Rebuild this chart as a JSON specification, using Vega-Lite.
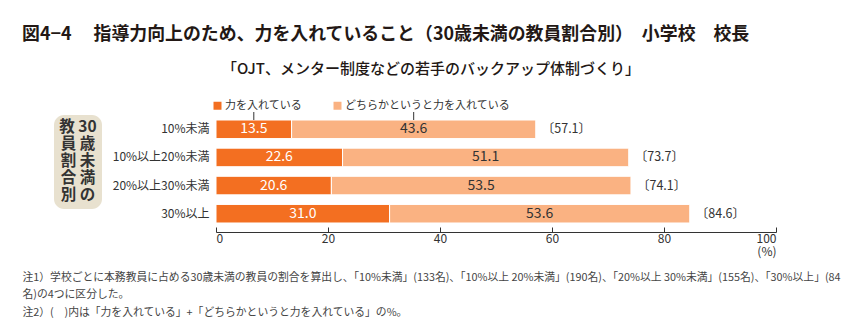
{
  "$schema": "https://vega.github.io/schema/vega-lite/v6.json",
  "padding": {"left": 22, "top": 26, "right": 5, "bottom": 5},
  "background": "white",
  "config": {"font": "Noto Sans CJK JP", "view": {"stroke": null}},
  "title": {"text": "図4−4　 指導力向上のため、力を入れていること（30歳未満の教員割合別）　小学校　校長", "anchor": "start", "frame": "bounds", "fontSize": 17.9, "fontWeight": "bold", "color": "#231815", "offset": 18},
  "datasets": {
    "bars": [
      {"cat": "10%未満", "type": "力を入れている", "ord": 1, "value": 13.5},
      {"cat": "10%未満", "type": "どちらかというと力を入れている", "ord": 2, "value": 43.6},
      {"cat": "10%以上20%未満", "type": "力を入れている", "ord": 1, "value": 22.6},
      {"cat": "10%以上20%未満", "type": "どちらかというと力を入れている", "ord": 2, "value": 51.1},
      {"cat": "20%以上30%未満", "type": "力を入れている", "ord": 1, "value": 20.6},
      {"cat": "20%以上30%未満", "type": "どちらかというと力を入れている", "ord": 2, "value": 53.5},
      {"cat": "30%以上", "type": "力を入れている", "ord": 1, "value": 31.0},
      {"cat": "30%以上", "type": "どちらかというと力を入れている", "ord": 2, "value": 53.6}
    ],
    "totals": [
      {"cat": "10%未満", "total": 57.1},
      {"cat": "10%以上20%未満", "total": 73.7},
      {"cat": "20%以上30%未満", "total": 74.1},
      {"cat": "30%以上", "total": 84.6}
    ]
  },
  "vconcat": [
    {
      "title": {"text": "「OJT、メンター制度などの若手のバックアップ体制づくり」", "anchor": "middle", "frame": "bounds", "fontSize": 15, "fontWeight": 500, "color": "#231815", "offset": 34},
      "width": 560,
      "height": 121,
      "layer": [
        {
          "data": {"name": "bars"},
          "mark": {"type": "bar", "stroke": "white", "strokeWidth": 1},
          "encoding": {
            "y": {"field": "cat", "type": "nominal", "sort": ["10%未満", "10%以上20%未満", "20%以上30%未満", "30%以上"],
              "scale": {"paddingInner": 0.34, "paddingOuter": 0.32},
              "axis": {"title": null, "ticks": false, "domain": false, "labelFontSize": 12, "labelColor": "#333", "labelPadding": 7}},
            "x": {"field": "value", "type": "quantitative", "stack": "zero", "scale": {"domain": [0, 100]},
              "axis": {"values": [0, 20, 40, 60, 80, 100], "grid": false, "tickSize": -5, "domainColor": "#333", "tickColor": "#333", "labelFontSize": 12, "labelColor": "#333", "labelExpr": "datum.value == 100 ? ['100', '(%)'] : datum.label", "labelLineHeight": 13, "labelPadding": 6,
                "title": ["注1）学校ごとに本務教員に占める30歳未満の教員の割合を算出し、「10%未満」(133名)、「10%以上 20%未満」(190名)、「20%以上 30%未満」(155名)、「30%以上」(84", "　　　名)の4つに区分した。", "注2）(　)内は「力を入れている」+「どちらかというと力を入れている」の%。"],
                "titleX": -194, "titleY": 39, "titleAlign": "left", "titleAnchor": "start", "titleBaseline": "top", "titleFontSize": 10.8, "titleFontWeight": "normal", "titleColor": "#444", "titleLineHeight": 17.5}},
            "color": {"field": "type", "type": "nominal", "scale": {"domain": ["力を入れている", "どちらかというと力を入れている"], "range": ["#f36f21", "#fab282"]},
              "legend": {"orient": "none", "legendX": -4, "legendY": -11, "padding": 0, "direction": "horizontal", "title": null, "symbolType": "square", "symbolSize": 64, "symbolStrokeWidth": 0, "labelFontSize": 11, "labelColor": "#333", "labelLimit": 0, "columnPadding": 30, "labelOffset": 2}},
            "order": {"field": "ord"}
          }
        },
        {
          "data": {"name": "bars"},
          "transform": [{"stack": "value", "groupby": ["cat"], "sort": [{"field": "ord"}], "as": ["v0", "v1"]}, {"calculate": "(datum.v0 + datum.v1) / 2", "as": "mid"}],
          "mark": {"type": "text", "fontSize": 14},
          "encoding": {
            "y": {"field": "cat", "type": "nominal", "sort": ["10%未満", "10%以上20%未満", "20%以上30%未満", "30%以上"]},
            "x": {"field": "mid", "type": "quantitative"},
            "text": {"field": "value", "format": ".1f"},
            "color": {"condition": {"test": "datum.ord == 1", "value": "white"}, "value": "#333"}
          }
        },
        {
          "data": {"name": "totals"},
          "transform": [{"calculate": "'〔' + format(datum.total, '.1f') + '〕'", "as": "lbl"}],
          "mark": {"type": "text", "align": "left", "dx": 6, "fontSize": 12.5, "color": "#333"},
          "encoding": {
            "y": {"field": "cat", "type": "nominal", "sort": ["10%未満", "10%以上20%未満", "20%以上30%未満", "30%以上"]},
            "x": {"field": "total", "type": "quantitative"},
            "text": {"field": "lbl"}
          }
        },
        {
          "data": {"name": "bars"},
          "transform": [{"stack": "value", "groupby": ["cat"], "sort": [{"field": "ord"}], "as": ["v0", "v1"]}, {"filter": "datum.cat == '10%未満'"}, {"calculate": "(datum.v0 + datum.v1) / 2", "as": "mid"}],
          "mark": {"type": "rule", "color": "#333", "strokeWidth": 1, "y2Offset": -8},
          "encoding": {
            "x": {"field": "mid", "type": "quantitative"},
            "y": {"field": "cat", "type": "nominal", "sort": ["10%未満", "10%以上20%未満", "20%以上30%未満", "30%以上"], "bandPosition": 0},
            "y2": {"field": "cat", "bandPosition": 0},
            "strokeDash": {"datum": "30歳未満の教員割合別", "legend": {"orient": "none", "legendX": -162, "legendY": 4, "fillColor": "#e8e1cf", "cornerRadius": 10, "padding": 5, "title": ["教 30", "員 歳", "割 未", "合 満", "別 の"], "titleFontSize": 15.5, "titleFontWeight": "bold", "titleColor": "#333", "titleLineHeight": 17, "titleAlign": "center", "titleAnchor": "middle", "titlePadding": 0, "symbolOpacity": 0, "symbolSize": 0, "symbolStrokeWidth": 0, "labelExpr": "''", "labelFontSize": 1, "labelOffset": 0}}
          }
        }
      ]
    }
  ]
}
